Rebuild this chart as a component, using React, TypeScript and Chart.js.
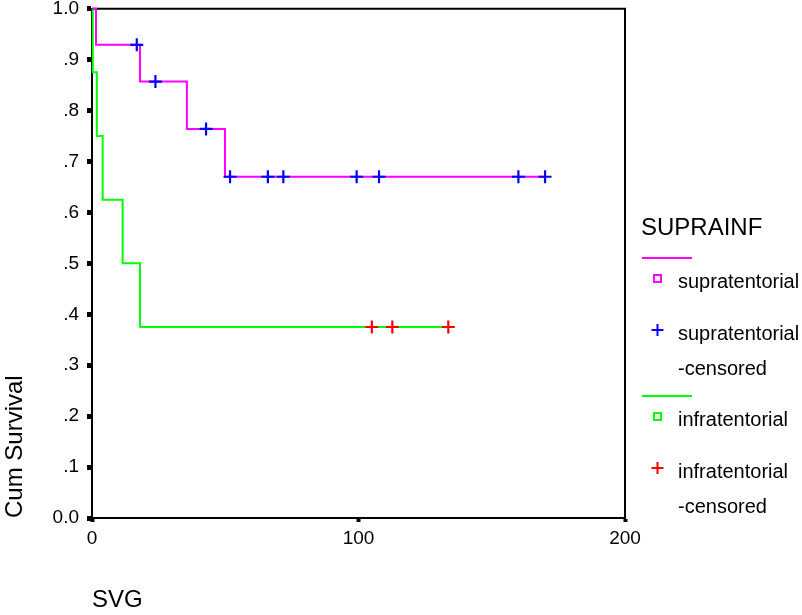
import React, { useEffect, useRef } from "react";
import { Chart, registerables } from "chart.js";

Chart.register(...registerables);

// ---- Data ----
const xTickValues = [0, 100, 200];
const yTickLabels = ["0.0", ".1", ".2", ".3", ".4", ".5", ".6", ".7", ".8", ".9", "1.0"];

const supraTimes = [0, 1.5, 18.0, 35.6, 49.9, 170.0];
const supraSurvival = [1.0, 0.929, 0.857, 0.764, 0.67, 0.67];
const supraCensorTimes = [16.8, 23.8, 42.8, 51.8, 66.0, 71.8, 99.3, 107.7, 160.0, 170.0];
const supraCensorSurvival = [0.929, 0.857, 0.764, 0.67, 0.67, 0.67, 0.67, 0.67, 0.67, 0.67];

const infraTimes = [0, 0.3, 1.8, 4.0, 11.5, 18.0, 133.7];
const infraSurvival = [1.0, 0.875, 0.75, 0.625, 0.5, 0.375, 0.375];
const infraCensorTimes = [105.0, 112.7, 133.7];
const infraCensorSurvival = [0.375, 0.375, 0.375];

const legendTitle = "SUPRAINF";
const legendGroups = [
  { name: "supratentorial", line: "#ff00ff", cross: "#0000ff" },
  { name: "infratentorial", line: "#00ff00", cross: "#ff0000" },
];

const FONT = '"Liberation Sans", Arial, sans-serif';

const zip = (xs: number[], ys: number[]) => xs.map((x, i) => ({ x, y: ys[i] }));

const framePlugin = {
  id: "frame",
  beforeDatasetsDraw(chart: any) {
    const { ctx, chartArea } = chart;
    ctx.save();
    ctx.strokeStyle = "#000";
    ctx.lineWidth = 2;
    ctx.beginPath();
    ctx.moveTo(chartArea.left, chartArea.top);
    ctx.lineTo(chartArea.right, chartArea.top);
    ctx.lineTo(chartArea.right, chartArea.bottom);
    ctx.stroke();
    ctx.restore();
  },
};

const legendPlugin = {
  id: "spssLegend",
  afterDraw(chart: any) {
    const ctx = chart.ctx;
    ctx.save();
    ctx.fillStyle = "#000";
    ctx.textBaseline = "middle";
    ctx.textAlign = "left";
    ctx.font = `24px ${FONT}`;
    ctx.fillText(legendTitle, 641, 228);

    const drawGroup = (g: any, top: number) => {
      ctx.strokeStyle = g.line;
      ctx.lineWidth = 1.8;
      ctx.beginPath();
      ctx.moveTo(642, top);
      ctx.lineTo(692, top);
      ctx.stroke();
      ctx.lineWidth = 2;
      ctx.strokeRect(654, top + 17, 7, 7);
      ctx.font = `20px ${FONT}`;
      ctx.fillStyle = "#000";
      ctx.fillText(g.name, 678, top + 24);
      ctx.strokeStyle = g.cross;
      ctx.lineWidth = 2;
      const cx = 657.5;
      const cy = top + 72;
      ctx.beginPath();
      ctx.moveTo(cx - 6, cy);
      ctx.lineTo(cx + 6, cy);
      ctx.moveTo(cx, cy - 6);
      ctx.lineTo(cx, cy + 6);
      ctx.stroke();
      ctx.fillText(g.name, 678, top + 76);
      ctx.fillText("-censored", 678, top + 111);
    };
    drawGroup(legendGroups[0], 258);
    drawGroup(legendGroups[1], 396);
    ctx.restore();
  },
};

export default function App() {
  const ref = useRef<HTMLCanvasElement>(null);

  useEffect(() => {
    document.body.style.margin = "0";
    const canvas = ref.current!;
    const chart = new Chart(canvas, {
      type: "scatter",
      data: {
        datasets: [
          {
            label: "supratentorial",
            data: zip(supraTimes, supraSurvival),
            showLine: true,
            stepped: "before",
            borderColor: "#ff00ff",
            borderWidth: 2,
            pointRadius: 0,
            clip: false,
            order: 2,
          },
          {
            label: "infratentorial",
            data: zip(infraTimes, infraSurvival),
            showLine: true,
            stepped: "before",
            borderColor: "#00ff00",
            borderWidth: 2,
            pointRadius: 0,
            clip: false,
            order: 2,
          },
          {
            label: "supratentorial-censored",
            data: zip(supraCensorTimes, supraCensorSurvival),
            showLine: false,
            pointStyle: "cross",
            pointRadius: 6.5,
            borderColor: "#0000ff",
            borderWidth: 2.2,
            clip: false,
            order: 1,
          },
          {
            label: "infratentorial-censored",
            data: zip(infraCensorTimes, infraCensorSurvival),
            showLine: false,
            pointStyle: "cross",
            pointRadius: 6.5,
            borderColor: "#ff0000",
            borderWidth: 2.2,
            clip: false,
            order: 1,
          },
        ] as any,
      },
      options: {
        animation: false,
        responsive: false,
        devicePixelRatio: 1,
        layout: { padding: { left: 0, right: 177, top: 6, bottom: 0 } },
        plugins: { legend: { display: false }, tooltip: { enabled: false } },
        scales: {
          x: {
            type: "linear",
            min: 0,
            max: 200,
            afterFit: (s: any) => {
              s.height = 97;
              s.paddingLeft = 0;
              s.paddingRight = 0;
            },
            afterBuildTicks: (s: any) => {
              s.ticks = xTickValues.map((v) => ({ value: v }));
            },
            ticks: {
              color: "#000",
              font: { family: FONT, size: 19 },
              padding: 5,
              maxRotation: 0,
              autoSkip: false,
              callback: (v: any) => String(v),
            },
            grid: { drawOnChartArea: false, tickLength: 4, tickWidth: 4, color: "#000" },
            border: { color: "#000", width: 2 },
            title: {
              display: true,
              text: "SVG",
              align: "start",
              color: "#000",
              font: { family: FONT, size: 24 },
              padding: { top: 0, bottom: 0 },
            },
          },
          y: {
            type: "linear",
            min: 0,
            max: 1,
            afterFit: (s: any) => {
              s.width = 92;
              s.paddingTop = 0;
              s.paddingBottom = 0;
            },
            afterBuildTicks: (s: any) => {
              s.ticks = yTickLabels.map((_, i) => ({ value: i / 10 }));
            },
            ticks: {
              color: "#000",
              font: { family: FONT, size: 19 },
              padding: 8,
              autoSkip: false,
              callback: (_v: any, i: number) => yTickLabels[i],
            },
            grid: { drawOnChartArea: false, tickLength: 5, tickWidth: 5, color: "#000" },
            border: { color: "#000", width: 2 },
            title: {
              display: true,
              text: "Cum Survival",
              align: "start",
              color: "#000",
              font: { family: FONT, size: 24 },
              padding: { top: 1, bottom: 0 },
            },
          },
        },
      },
      plugins: [framePlugin, legendPlugin],
    });
    return () => chart.destroy();
  }, []);

  return <canvas ref={ref} width={802} height={615} style={{ display: "block", width: 802, height: 615 }} />;
}
